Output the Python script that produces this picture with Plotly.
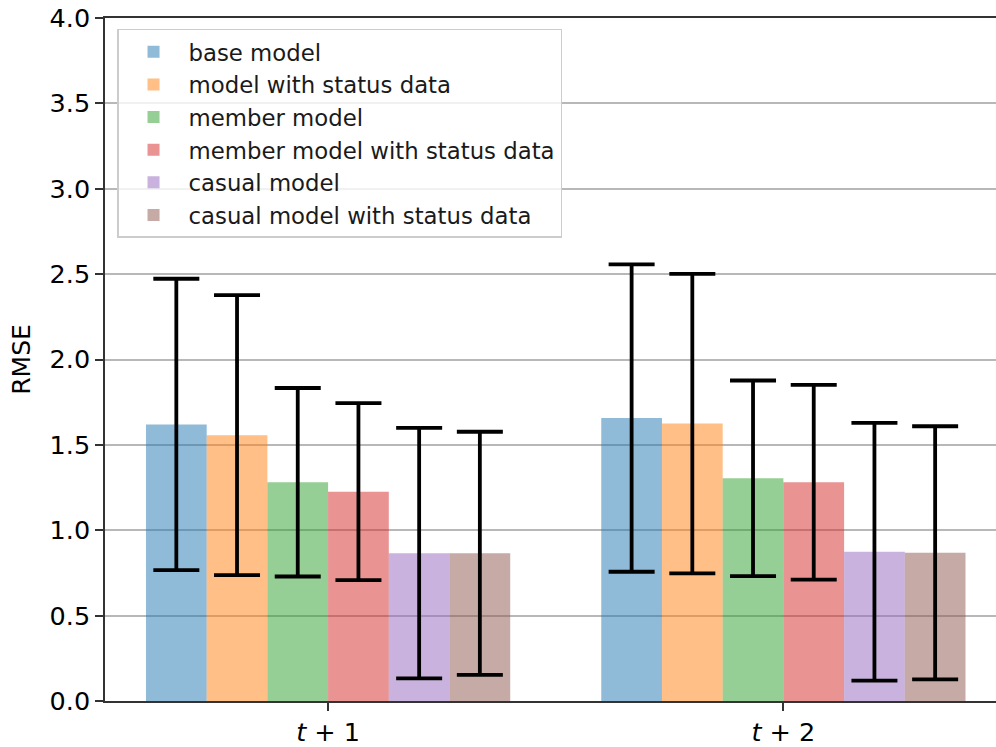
import plotly.graph_objects as go

categories = ["<i>t</i> + 1", "<i>t</i> + 2"]
series_names = [
    "base model",
    "model with status data",
    "member model",
    "member model with status data",
    "casual model",
    "casual model with status data",
]
rmse_t1 = [1.62, 1.557, 1.281, 1.226, 0.866, 0.865]
rmse_t2 = [1.657, 1.625, 1.304, 1.281, 0.874, 0.868]
err_t1 = [0.853, 0.82, 0.552, 0.518, 0.733, 0.712]
err_t2 = [0.90, 0.877, 0.573, 0.57, 0.755, 0.741]
colors = [
    "rgba(31,119,180,0.5)",
    "rgba(255,127,14,0.5)",
    "rgba(44,160,44,0.5)",
    "rgba(214,39,40,0.5)",
    "rgba(148,103,189,0.5)",
    "rgba(140,86,75,0.5)",
]
y_ticks = [0.0, 0.5, 1.0, 1.5, 2.0, 2.5, 3.0, 3.5, 4.0]

fig = go.Figure()
for i, name in enumerate(series_names):
    fig.add_trace(go.Bar(
        x=categories,
        y=[rmse_t1[i], rmse_t2[i]],
        name=name,
        marker=dict(color=colors[i], line=dict(width=0)),
        error_y=dict(type="data", array=[err_t1[i], err_t2[i]], visible=True,
                     color="black", thickness=3.8, width=23),
    ))

font = "DejaVu Sans, Arial, sans-serif"
fig.update_layout(
    width=996, height=747,
    margin=dict(l=105, r=0, t=18, b=44),
    paper_bgcolor="white", plot_bgcolor="white",
    barmode="group", bargap=0.2, bargroupgap=0,
    font=dict(family=font, color="black"),
    showlegend=True,
    legend=dict(
        x=0.0135, y=0.984, xanchor="left", yanchor="top",
        bgcolor="rgba(255,255,255,0.8)", bordercolor="#cccccc", borderwidth=1.5,
        font=dict(size=22.8, family=font, color="#1a1a1a"),
        tracegroupgap=0, itemwidth=60,
    ),
    xaxis=dict(
        type="category", range=[-0.49, 1.467],
        showline=True, linecolor="#333333", linewidth=1.5, mirror=True,
        ticks="outside", ticklen=8, tickwidth=1.5, tickcolor="#333333",
        tickfont=dict(size=25.5, family=font), showgrid=False,
    ),
    yaxis=dict(
        range=[0, 4.0], tickvals=y_ticks, ticktext=[f"{v:.1f}" for v in y_ticks],
        showline=True, linecolor="#333333", linewidth=1.5,
        ticks="outside", ticklen=8, tickwidth=1.5, tickcolor="#333333",
        tickfont=dict(size=25.5, family=font),
        showgrid=True, gridcolor="#b8b8b8", gridwidth=1.5, zeroline=False,
        title=dict(text="RMSE", font=dict(size=25, family=font), standoff=12),
    ),
)

fig.write_html("out.html")
